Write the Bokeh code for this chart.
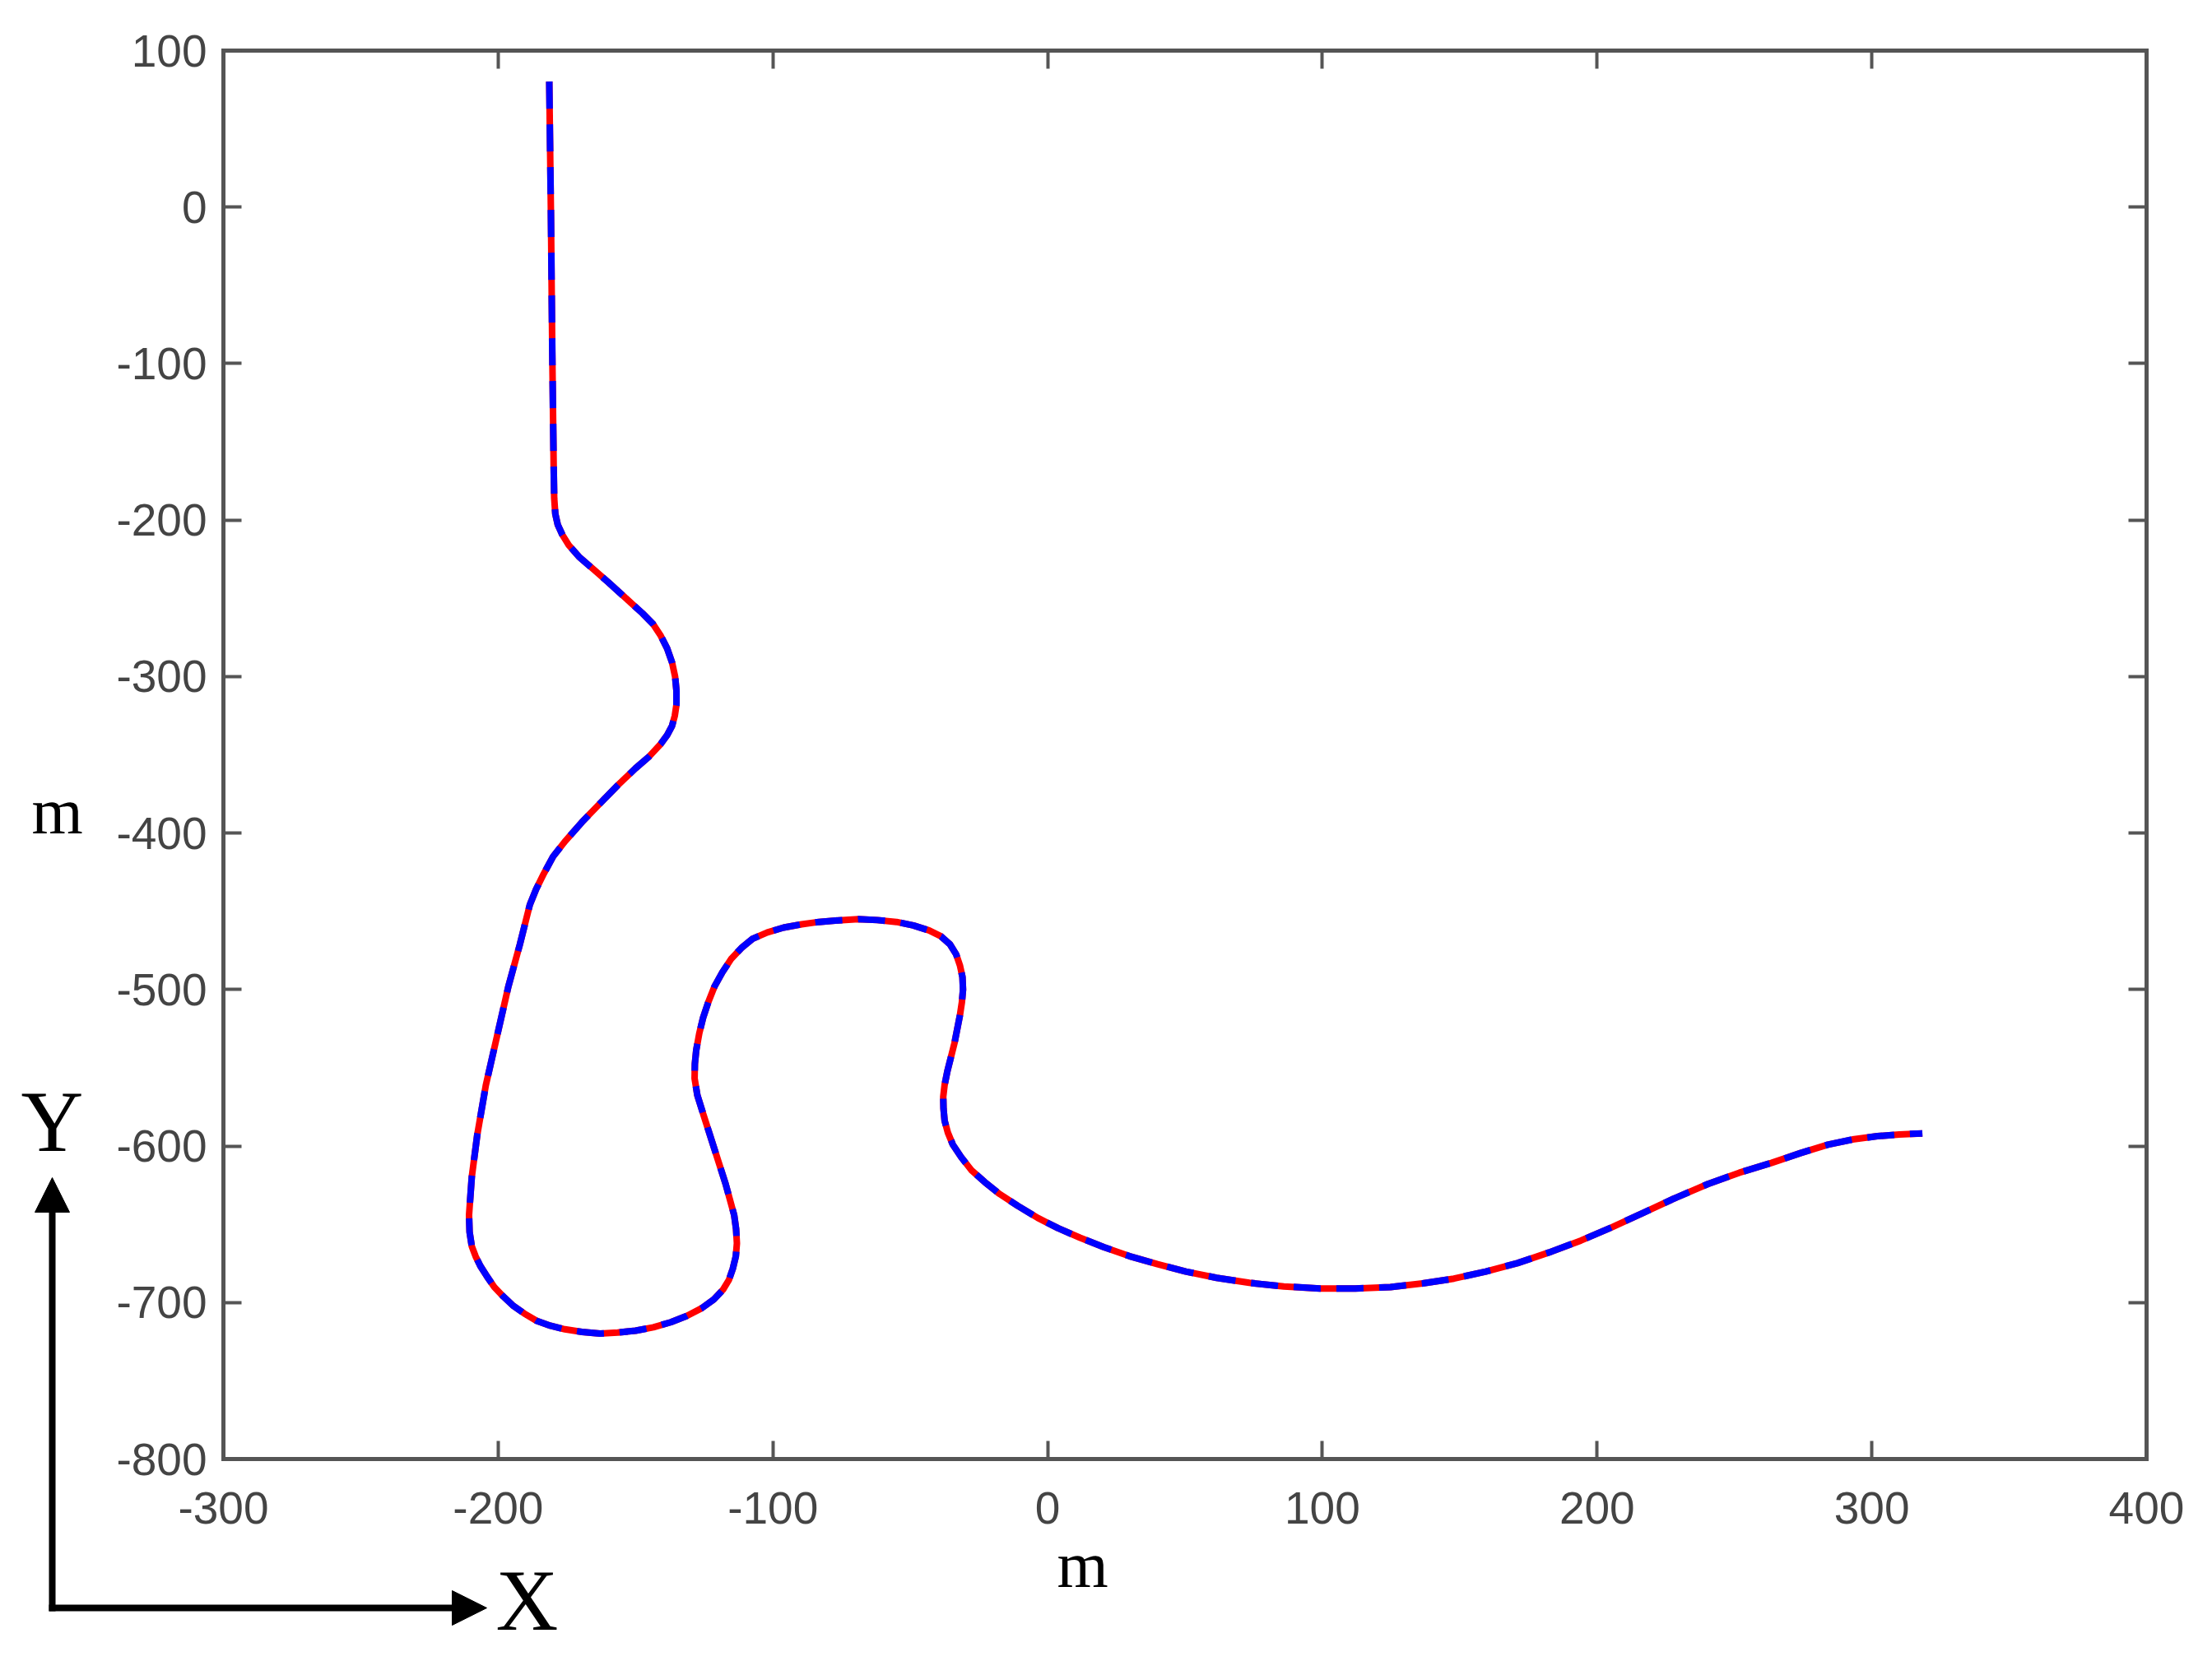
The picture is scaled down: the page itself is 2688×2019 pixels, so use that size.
from bokeh.plotting import figure
from bokeh.models import Range1d, LinearAxis, Label, Arrow, NormalHead, CustomJSTickFormatter, FixedTicker
from bokeh.embed import file_html
from bokeh.resources import INLINE

# ---- data ----
path = [
    (-181.4, 80.2), (-180.8, -2.7), (-180.3, -92.8), (-179.8, -164.9), (-179.6, -186.0),
    (-179.2, -196.0), (-178.3, -203.0), (-176.6, -209.5), (-174.3, -216.0), (-170.6, -223.4),
    (-165.3, -231.5), (-160.0, -239.6), (-153.8, -249.5), (-147.5, -259.5), (-143.6, -266.5),
    (-140.8, -274.0), (-138.5, -282.0), (-136.7, -291.0), (-135.6, -300.0), (-135.1, -309.0),
    (-135.1, -318.0), (-135.7, -325.0), (-136.7, -331.5), (-138.5, -337.5), (-140.8, -343.0),
    (-145.0, -351.0), (-150.0, -358.6), (-156.5, -369.5), (-162.9, -381.0), (-169.5, -393.0),
    (-175.7, -405.4), (-180.0, -415.0), (-183.4, -426.0), (-186.2, -436.0), (-188.5, -446.0),
    (-192.1, -471.2), (-196.3, -498.2), (-200.4, -529.7), (-204.5, -561.3), (-207.6, -592.8),
    (-209.6, -619.8), (-210.6, -644.1), (-210.4, -655.0), (-209.6, -664.0), (-208.2, -670.5),
    (-206.5, -676.6), (-204.0, -683.5), (-201.4, -690.1), (-198.2, -696.0), (-194.7, -701.8),
    (-190.5, -707.0), (-186.0, -711.7), (-181.0, -714.8), (-175.7, -717.1), (-169.5, -718.8),
    (-162.9, -719.8), (-156.5, -719.2), (-150.0, -718.0), (-143.5, -715.8), (-137.2, -712.6),
    (-131.3, -708.5), (-125.9, -703.6), (-121.5, -698.0), (-118.2, -691.9), (-116.0, -685.5),
    (-114.6, -678.4), (-113.5, -670.5), (-113.1, -662.2), (-113.4, -653.0), (-114.1, -644.1),
    (-117.2, -624.3), (-121.3, -601.8), (-125.4, -579.3), (-127.5, -567.5), (-128.5, -556.8),
    (-128.4, -547.5), (-127.9, -538.7), (-126.8, -528.0), (-125.4, -518.0), (-123.5, -508.0),
    (-121.3, -498.2), (-118.4, -489.0), (-115.1, -480.2), (-111.5, -473.5), (-107.4, -467.6),
    (-102.0, -463.5), (-96.1, -460.4), (-89.5, -458.3), (-83.3, -456.8), (-76.0, -455.8),
    (-68.9, -455.0), (-62.0, -455.6), (-55.0, -456.8), (-48.9, -459.0), (-43.2, -462.2),
    (-38.8, -466.0), (-35.5, -471.2), (-33.3, -477.5), (-31.9, -484.7), (-31.0, -492.0),
    (-30.8, -500.0), (-31.2, -508.0), (-31.9, -516.2), (-33.9, -534.2), (-36.5, -552.3),
    (-37.5, -561.0), (-38.0, -568.5), (-37.9, -576.0), (-37.5, -583.8), (-36.3, -591.5),
    (-34.5, -599.1), (-31.5, -607.0), (-27.8, -615.3), (-22.9, -623.0), (-17.5, -630.6),
    (-10.8, -638.3), (-3.6, -645.9), (3.8, -652.5), (11.8, -658.6), (20.5, -664.6),
    (29.7, -670.3), (40.0, -675.5), (50.3, -680.2), (61.5, -684.2), (73.4, -687.4),
    (86.0, -689.7), (99.1, -691.0), (112.0, -691.0), (124.8, -690.1), (136.5, -687.8),
    (147.9, -684.7), (159.5, -680.2), (171.0, -674.8), (182.5, -668.0), (194.1, -660.4),
    (205.5, -651.8), (217.2, -642.3), (228.7, -633.0), (240.3, -624.3), (251.8, -617.0),
    (263.4, -610.8), (274.0, -604.5), (284.0, -599.1), (293.0, -595.8), (302.0, -593.7),
    (310.0, -592.6), (318.4, -591.9),
]
x_path = [pt[0] for pt in path]
y_path = [pt[1] for pt in path]
x_ticks = [-300, -200, -100, 0, 100, 200, 300, 400]
y_ticks = [-800, -700, -600, -500, -400, -300, -200, -100, 0, 100]
x_label = "m"
y_label = "m"

# ---- canvas geometry ----
W, H = 2680, 2011
FRAME_L, FRAME_R, FRAME_T, FRAME_B = 271, 2608, 61, 1773   # pixel box of the chart axes
XMIN, XMAX = x_ticks[0], x_ticks[-1]
YMIN, YMAX = y_ticks[0], y_ticks[-1]
sx = (FRAME_R - FRAME_L) / (XMAX - XMIN)
sy = (FRAME_B - FRAME_T) / (YMAX - YMIN)

def dx(px):
    return XMIN + (px - FRAME_L) / sx

def dy(py):
    return YMAX - (py - FRAME_T) / sy

AX = "#555555"
TICK_FONT = "Liberation Sans"
SERIF = "Liberation Serif"

p = figure(width=W, height=H, output_backend="svg", toolbar_location=None, title=None,
           x_range=Range1d(dx(0), dx(W)), y_range=Range1d(dy(H), dy(0)),
           min_border=0, background_fill_color="white", border_fill_color="white",
           x_axis_location=None, y_axis_location=None)
p.grid.visible = False
p.outline_line_color = None

fmt_num = CustomJSTickFormatter(code="return tick.toFixed(0)")
fmt_none = CustomJSTickFormatter(code="return ''")

bottom_ax = LinearAxis(fixed_location=YMIN, bounds=(XMIN, XMAX), formatter=fmt_num,
                       ticker=FixedTicker(ticks=x_ticks))
top_ax = LinearAxis(fixed_location=YMAX, bounds=(XMIN, XMAX), formatter=fmt_none,
                    ticker=FixedTicker(ticks=x_ticks))
left_ax = LinearAxis(fixed_location=XMIN, bounds=(YMIN, YMAX), formatter=fmt_num,
                     ticker=FixedTicker(ticks=y_ticks))
right_ax = LinearAxis(fixed_location=XMAX, bounds=(YMIN, YMAX), formatter=fmt_none,
                      ticker=FixedTicker(ticks=y_ticks))
p.add_layout(bottom_ax, "below")
p.add_layout(top_ax, "above")
p.add_layout(left_ax, "left")
p.add_layout(right_ax, "right")

for ax in [bottom_ax, top_ax, left_ax, right_ax]:
    ax.axis_line_color = AX
    ax.axis_line_width = 5
    ax.axis_line_cap = "square"
    ax.major_tick_line_color = AX
    ax.major_tick_line_width = 4
    ax.major_tick_in = 22
    ax.major_tick_out = 0
    ax.minor_tick_line_color = None
    ax.major_label_text_font = TICK_FONT
    ax.major_label_text_font_size = "55px"
    ax.major_label_text_color = "#444444"

bottom_ax.major_label_standoff = 40
left_ax.major_label_standoff = 20

# reference (red, solid) and tracked path (blue, dashed)
p.line(x_path, y_path, line_color="#ff0000", line_width=8)
p.line(x_path, y_path, line_color="#0000ff", line_width=8, line_dash="33 19")

# axis unit labels
p.add_layout(Label(x=dx(69), y=dy(985), text=y_label, text_font=SERIF,
                   text_font_size="80px", text_color="black", text_align="center",
                   text_baseline="alphabetic"))
p.add_layout(Label(x=dx(1315), y=dy(1901), text=x_label, text_font=SERIF,
                   text_font_size="80px", text_color="black", text_align="center",
                   text_baseline="alphabetic"))

# coordinate arrows
p.add_layout(Arrow(end=NormalHead(size=42, fill_color="black", line_color="black"),
                   x_start=dx(63), y_start=dy(1958), x_end=dx(63), y_end=dy(1431),
                   line_width=8, line_color="black"))
p.add_layout(Arrow(end=NormalHead(size=42, fill_color="black", line_color="black"),
                   x_start=dx(59), y_start=dy(1954), x_end=dx(591), y_end=dy(1954),
                   line_width=8, line_color="black"))
p.add_layout(Label(x=dx(63), y=dy(1363), text="Y", text_font=SERIF,
                   text_font_size="105px", text_color="black", text_align="center",
                   text_baseline="alphabetic"))
p.add_layout(Label(x=dx(640), y=dy(1945), text="X", text_font=SERIF,
                   text_font_size="105px", text_color="black", text_align="center",
                   text_baseline="middle"))

open("out.html", "w").write(file_html(p, INLINE))
